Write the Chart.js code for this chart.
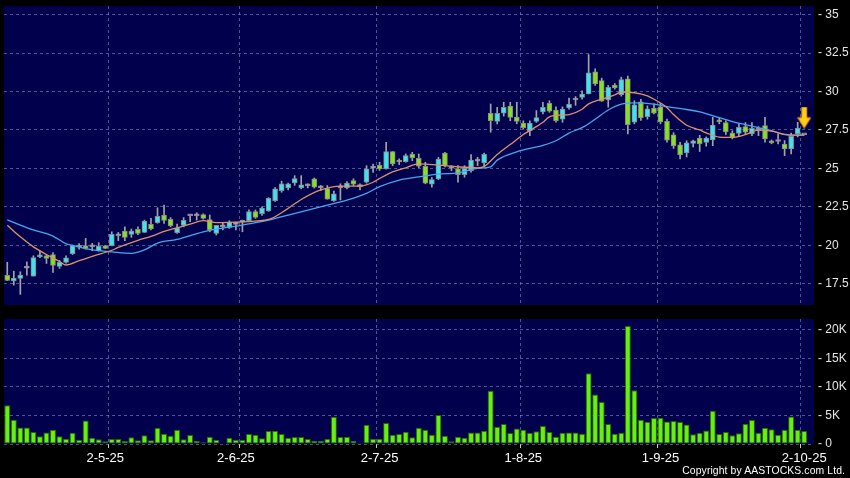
<!DOCTYPE html>
<html>
<head>
<meta charset="utf-8">
<script src="https://cdn.jsdelivr.net/npm/chart.js@4.4.1/dist/chart.umd.min.js"></script>
<style>
  html, body { margin: 0; padding: 0; background: #000; }
  #wrap { position: relative; width: 850px; height: 478px; background: #000; overflow: hidden; }
  #priceChart { position: absolute; left: 0; top: 0; }
  #volChart { position: absolute; left: 0; top: 310px; }
  #copy { position: absolute; right: 5px; top: 465px; font: 10.4px "Liberation Sans", Arial, sans-serif; color: #fff; letter-spacing: 0.1px; }
</style>
</head>
<body>
<div id="wrap">
  <canvas id="priceChart" width="850" height="310"></canvas>
  <canvas id="volChart" width="850" height="168"></canvas>
  <div id="copy">Copyright by AASTOCKS.com Ltd.</div>
</div>
<script>
// daily candles, one per trading day (Apr 2025 - 2 Oct 2025)
const opens = [
  18.05, 17.69, 17.85, 18.52, 18.0, 19.25, 19.32, 19.4, 18.63, 18.89,
  19.45, 19.88, 19.97, 19.9, 19.65, 19.97, 19.97, 20.62, 20.93, 20.71,
  21.04, 20.84, 21.37, 21.48, 21.96, 21.69, 20.83, 21.29, 21.92, 21.92,
  22.0, 21.68, 20.77, 21.2, 21.17, 21.36, 21.5, 21.6, 22.19, 22.06,
  22.23, 22.9, 23.56, 23.73, 24.06, 23.73, 23.86, 24.32, 23.73, 23.69,
  22.91, 23.73, 23.73, 24.21, 23.82, 24.1, 25.02, 25.2, 24.97, 26.09,
  25.42, 25.44, 25.94, 25.66, 25.14, 23.97, 24.32, 26.0, 25.01, 24.97,
  24.6, 24.86, 25.47, 25.36, 28.58, 28.06, 28.6, 29.06, 28.34, 27.95,
  27.43, 28.06, 28.67, 29.23, 28.8, 28.21, 28.93, 29.45, 29.62, 29.84,
  31.28, 30.71, 29.46, 30.42, 29.8, 30.82, 28.0, 29.33, 28.37, 28.93,
  29.0, 28.06, 27.18, 26.53, 26.0, 26.63, 26.97, 26.69, 26.85, 28.15,
  27.98, 27.3, 27.28, 27.72, 27.24, 27.5, 27.78, 26.74, 26.75, 26.59,
  26.27, 27.24, 27.18
];
const highs = [
  18.9, 18.32, 18.28, 18.93, 19.32, 19.62, 19.35, 19.53, 19.02, 19.32,
  20.01, 20.12, 20.45, 20.13, 20.17, 20.0, 20.88, 20.84, 21.21, 21.06,
  21.2, 21.64, 21.75, 22.44, 22.62, 21.8, 21.38, 21.8, 21.97, 22.12,
  22.05, 21.97, 21.3, 21.43, 21.6, 21.49, 21.64, 22.3, 22.3, 22.5,
  23.1, 23.75, 24.17, 24.05, 24.53, 24.53, 24.0, 24.38, 23.89, 23.89,
  23.52, 24.0, 24.15, 24.32, 24.0, 25.18, 25.28, 25.4, 26.7, 26.1,
  25.62, 25.94, 26.05, 25.94, 25.4, 24.4, 25.72, 26.05, 25.18, 25.18,
  25.18, 25.9, 25.72, 26.0, 29.19, 28.97, 29.3, 29.3, 29.3, 28.1,
  28.1, 28.76, 29.3, 29.4, 29.0, 29.0, 29.58, 29.67, 30.05, 32.4,
  31.47, 30.87, 30.4, 30.52, 30.93, 31.0, 29.4, 29.5, 29.07, 29.2,
  29.22, 28.2, 27.32, 26.7, 26.8, 26.85, 27.15, 27.05, 28.32, 28.32,
  28.1, 27.45, 27.88, 27.98, 27.98, 27.72, 28.32, 26.85, 27.25, 26.81,
  27.3, 28.0, 27.18
];
const lows = [
  17.7, 17.41, 16.81, 18.06, 18.0, 19.19, 18.82, 18.24, 18.5, 18.84,
  19.4, 19.75, 19.75, 19.65, 19.62, 19.78, 19.97, 20.3, 20.3, 20.52,
  20.7, 20.84, 21.0, 21.43, 21.43, 21.2, 20.78, 21.2, 21.53, 21.64,
  21.7, 20.88, 20.67, 21.0, 21.1, 21.0, 20.88, 21.55, 21.75, 21.95,
  22.2, 22.85, 23.45, 23.6, 23.9, 23.67, 23.73, 23.72, 23.56, 23.0,
  22.85, 22.95, 23.67, 23.88, 23.6, 24.04, 24.74, 24.87, 24.95, 25.18,
  25.25, 25.4, 25.5, 25.05, 24.0, 23.78, 24.27, 25.1, 24.85, 24.1,
  24.43, 24.75, 25.18, 25.18, 27.35, 27.89, 28.4, 28.1, 27.9, 27.56,
  27.13, 27.99, 28.55, 28.65, 28.0, 28.0, 28.86, 29.1, 29.5, 29.84,
  30.39, 29.36, 28.98, 30.16, 29.7, 27.25, 27.9, 28.12, 28.2, 28.55,
  27.9, 26.71, 26.3, 25.62, 25.75, 26.39, 26.1, 26.45, 26.48, 27.9,
  27.2, 26.92, 27.13, 27.24, 27.13, 27.13, 26.7, 26.6, 26.6, 25.83,
  25.94, 27.05, 27.18
];
const closes = [
  17.72, 17.87, 18.06, 18.52, 19.21, 19.3, 19.15, 18.69, 18.89, 19.19,
  19.97, 20.0, 19.8, 19.9, 19.95, 19.8, 20.71, 20.7, 20.52, 20.93,
  20.78, 21.58, 21.07, 21.89, 21.62, 21.28, 21.14, 21.63, 21.92, 21.92,
  21.75, 21.0, 21.3, 21.2, 21.49, 21.36, 21.55, 22.19, 21.82, 22.42,
  23.05, 23.68, 23.99, 23.99, 24.34, 23.93, 23.86, 23.78, 23.73, 23.0,
  23.34, 23.73, 24.04, 23.97, 23.82, 24.97, 25.06, 24.97, 26.09, 25.29,
  25.42, 25.83, 25.68, 25.14, 24.04, 24.27, 25.6, 25.2, 25.01, 24.6,
  25.01, 25.55, 25.47, 25.92, 28.11, 28.58, 28.97, 28.32, 28.06, 27.65,
  27.95, 28.3, 28.97, 28.73, 28.11, 28.86, 29.19, 29.45, 29.84, 31.22,
  30.5, 29.37, 30.28, 30.24, 30.77, 27.84, 29.14, 28.29, 28.87, 28.59,
  28.02, 26.84, 26.47, 25.88, 26.66, 26.8, 26.59, 26.97, 27.82, 28.03,
  27.37, 27.02, 27.67, 27.35, 27.61, 27.5, 26.92, 26.66, 26.75, 26.27,
  27.09, 27.63, 27.18
];
const volumes = [
  6800, 4240, 2900, 2900, 2090, 1340, 2030, 2500, 1340, 930,
  1980, 760, 4130, 1100, 810, 470, 870, 870, 520, 1160,
  640, 1510, 640, 2850, 1800, 1450, 2500, 810, 1570, 580,
  290, 1280, 760, 120, 1100, 760, 760, 1740, 1630, 990,
  2270, 2330, 1740, 1100, 1220, 1220, 870, 580, 580, 930,
  4770, 1220, 1280, 580, 170, 3370, 930, 930, 3660, 1630,
  1740, 2150, 1160, 2850, 2500, 1630, 5060, 1450, 470, 1280,
  1100, 2030, 2030, 2330, 9300, 3020, 3490, 1920, 2730, 2500,
  1980, 2210, 3140, 2090, 1280, 1980, 2030, 2030, 1800, 12380,
  8660, 7330, 3490, 1800, 1980, 20640, 9420, 4240, 3900, 4530,
  4590, 3950, 4010, 3840, 3430, 1690, 1980, 2380, 5810, 1740,
  2090, 1510, 1860, 3550, 4190, 1980, 2850, 2560, 1630, 2500,
  4830, 2500, 2270
];

// moving averages at sample days
const maShortIdx = [0,2,4,6,8,9,11,13,16,17,20,22,24,26,28,30,32,36,40,42,45,48,51,54,56,57,59,61,63,66,69,72,73,75,77,79,82,83,85,86,88,89,91,93,94,96,98,99,101,102,104,106,107,109,111,113,115,117,119,120,122];
const maShortVal = [21.3,20.55,19.9,19.4,18.95,18.72,19.0,19.28,19.68,19.86,20.32,20.58,20.9,21.14,21.38,21.6,21.48,21.53,21.68,22.12,22.98,23.6,23.85,23.85,24.1,24.35,24.78,25.04,25.3,25.21,25.1,25.04,25.12,25.9,26.55,27.2,28.0,28.35,28.47,28.5,28.85,29.2,29.5,29.78,29.97,29.92,29.72,29.5,28.95,28.5,27.81,27.5,27.31,27.04,27.02,27.2,27.49,27.42,27.22,27.16,27.16];
const maLongIdx = [0,2,4,7,9,10,12,14,16,19,21,23,26,30,33,36,40,43,46,49,52,55,57,60,63,66,69,72,74,75,78,82,84,86,88,90,92,94,96,99,101,104,106,109,111,113,115,117,119,121,122];
const maLongVal = [21.65,21.32,21.0,20.6,20.1,20.0,19.78,19.65,19.57,19.48,19.7,20.15,20.39,20.88,21.12,21.32,21.64,21.97,22.29,22.62,22.94,23.38,23.81,24.24,24.45,24.63,24.71,25.0,25.1,25.54,26.08,26.5,26.8,27.3,27.65,28.2,28.8,29.18,29.26,29.18,29.02,28.83,28.68,28.3,28.05,27.85,27.65,27.45,27.2,27.16,27.16];

// axis ticks
const dateLabels = ["2-5-25", "2-6-25", "2-7-25", "1-8-25", "1-9-25", "2-10-25"];
const dateIdx = [15, 35, 57, 79, 100, 122];
const gridIdx = [16, 36, 57, 79, 100, 122];
const priceTicks = [17.5, 20, 22.5, 25, 27.5, 30, 32.5, 35];
const volTicks = [0, 5000, 10000, 15000, 20000];
const volTickLabels = ["0", "5K", "10K", "15K", "20K"];
const arrowPrice = 28.3; // marker over last day

const SLOTS = 124;
const labels = Array.from({ length: SLOTS }, (_, i) => String(i));
const n = closes.length;

const NAVY = "#00004c";
const GRID = "rgba(150,150,200,0.55)";
const UP = "#3fe3f0";
const DOWN = "#86e21e";
const FLAT = "#b4b4b4";
const FONT = "'Liberation Sans', Arial, sans-serif";

const panelBg = {
  id: "panelBg",
  beforeDraw(chart) {
    const { ctx, chartArea: a } = chart;
    ctx.save();
    ctx.fillStyle = NAVY;
    ctx.fillRect(a.left, a.top, a.width, a.height);
    ctx.restore();
  },
};

function sparse(idx, val) {
  const out = new Array(n).fill(null);
  idx.forEach((k, j) => (out[k] = val[j]));
  return out;
}

function makeArrow() {
  const c = document.createElement("canvas");
  c.width = 14;
  c.height = 22;
  const g = c.getContext("2d");
  g.fillStyle = "#ffcc1a";
  g.strokeStyle = "#d88a00";
  g.lineWidth = 1;
  g.beginPath();
  g.moveTo(4.5, 0.5);
  g.lineTo(9.5, 0.5);
  g.lineTo(9.5, 11);
  g.lineTo(13.5, 11);
  g.lineTo(7, 21.5);
  g.lineTo(0.5, 11);
  g.lineTo(4.5, 11);
  g.closePath();
  g.fill();
  g.stroke();
  return c;
}

const candleColor = closes.map((c, i) =>
  c > opens[i] ? UP : c < opens[i] ? DOWN : FLAT
);
const arrowData = new Array(n).fill(null);
arrowData[n - 1] = arrowPrice;

function xGrid(ctx) {
  return gridIdx.includes(ctx.index) ? GRID : "rgba(0,0,0,0)";
}

function tightY(w) {
  return function (s) {
    s.width = w;
    s.paddingTop = 0;
    s.paddingBottom = 0;
  };
}

new Chart(document.getElementById("priceChart"), {
  type: "bar",
  data: {
    labels: labels,
    datasets: [
      {
        type: "line",
        data: arrowData,
        showLine: false,
        pointStyle: makeArrow(),
        pointRadius: 10,
        order: -1,
      },
      {
        type: "line",
        data: sparse(maShortIdx, maShortVal),
        borderColor: "#e0906a",
        borderWidth: 1.3,
        pointRadius: 0,
        spanGaps: true,
        cubicInterpolationMode: "monotone",
        order: 0,
      },
      {
        type: "line",
        data: sparse(maLongIdx, maLongVal),
        borderColor: "#44a8f0",
        borderWidth: 1.3,
        pointRadius: 0,
        spanGaps: true,
        cubicInterpolationMode: "monotone",
        order: 0,
      },
      {
        data: opens.map((o, i) => [o, closes[i]]),
        backgroundColor: candleColor,
        borderColor: "#8a8a8a",
        borderWidth: 1,
        borderSkipped: false,
        barThickness: 5,
        minBarLength: 2,
        grouped: false,
        order: 1,
      },
      {
        data: lows.map((l, i) => [l, highs[i]]),
        backgroundColor: "#a4a4a4",
        borderWidth: 0,
        barThickness: 1,
        grouped: false,
        order: 2,
      },
    ],
  },
  options: {
    responsive: false,
    animation: false,
    layout: { autoPadding: false, padding: { left: 4, top: 6, right: 0, bottom: 0 } },
    plugins: { legend: { display: false }, tooltip: { enabled: false } },
    scales: {
      x: {
        offset: true,
        grid: { offset: true, color: xGrid, drawTicks: false },
        border: { display: false, dash: [3, 3] },
        ticks: { display: false, autoSkip: false, maxRotation: 0, minRotation: 0 },
        afterFit(s) {
          s.height = 5;
          s.paddingLeft = 0;
          s.paddingRight = 0;
        },
      },
      y: {
        position: "right",
        min: 16.12,
        max: 35.56,
        afterBuildTicks(s) {
          s.ticks = priceTicks.map((v) => ({ value: v }));
        },
        ticks: {
          callback: (v) => "- " + v,
          color: "#e6e6e6",
          font: { family: FONT, size: 12 },
          padding: 4,
        },
        grid: { color: GRID, drawTicks: false },
        border: { display: false, dash: [3, 3] },
        afterFit: tightY(36),
      },
    },
  },
  plugins: [panelBg],
});

new Chart(document.getElementById("volChart"), {
  type: "bar",
  data: {
    labels: labels,
    datasets: [
      {
        data: volumes,
        backgroundColor: "#66f010",
        borderColor: "#2a6400",
        borderWidth: 1,
        borderSkipped: false,
        barPercentage: 1,
        categoryPercentage: 0.92,
      },
    ],
  },
  options: {
    responsive: false,
    animation: false,
    layout: { autoPadding: false, padding: { left: 4, top: 9, right: 0, bottom: 0 } },
    plugins: { legend: { display: false }, tooltip: { enabled: false } },
    scales: {
      x: {
        offset: true,
        grid: {
          offset: true,
          color: xGrid,
          tickColor: (ctx) => (gridIdx.includes(ctx.index) ? "#cccccc" : "rgba(0,0,0,0)"),
          tickLength: 4,
          tickBorderDash: [],
        },
        border: { display: false, dash: [3, 3] },
        ticks: {
          autoSkip: false,
          maxRotation: 0,
          minRotation: 0,
          padding: 3,
          color: "#ffffff",
          font: { family: FONT, size: 13 },
          callback: (v, i) => {
            const k = dateIdx.indexOf(i);
            return k >= 0 ? dateLabels[k] : "";
          },
        },
        afterFit(s) {
          s.height = 34;
          s.paddingLeft = 0;
          s.paddingRight = 0;
        },
      },
      y: {
        position: "right",
        min: 0,
        max: 21870,
        afterBuildTicks(s) {
          s.ticks = volTicks.map((v) => ({ value: v }));
        },
        ticks: {
          callback: (v) => "- " + volTickLabels[volTicks.indexOf(v)],
          color: "#e6e6e6",
          font: { family: FONT, size: 12 },
          padding: 4,
        },
        grid: { color: GRID, drawTicks: false },
        border: { display: false, dash: [3, 3] },
        afterFit: tightY(36),
      },
    },
  },
  plugins: [panelBg],
});
</script>
</body>
</html>
